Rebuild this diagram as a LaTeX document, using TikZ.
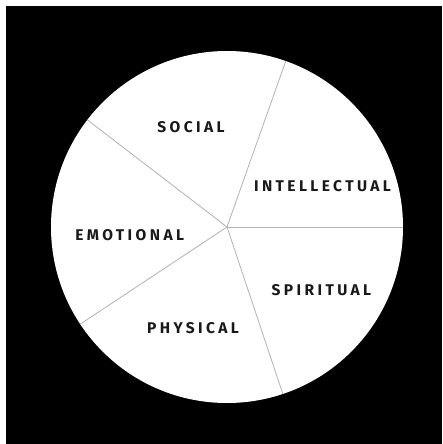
\documentclass[tikz,border=0pt]{standalone}
\usepackage{fontspec}
\usetikzlibrary{calc}
\newfontfamily\lblfont[LetterSpace=22]{Fira Sans}
\begin{document}
\begin{tikzpicture}[x=1pt,y=-1pt,
  spoke/.style={draw=black!30,line width=0.8pt},
  lbl/.style={font=\lblfont\bfseries\fontsize{15.5}{17}\selectfont,text=black!90,inner sep=0pt,anchor=center,xshift=1.7pt}]
\useasboundingbox (0,0) rectangle (442,444);
\fill[white] (0,0) rectangle (442,444);
\fill[black] (6,6) rectangle (442,444);
\coordinate (c) at (227,227);
\fill[white] (c) circle[radius=176];
\foreach \a/\n in {0/p1,71.5/p2,146.5/p3,217.5/p4,289.5/p5}{
  \coordinate (\n) at ($(c)+(\a:176)$);
}
\draw[spoke] (c) -- (p1);
\draw[spoke] (c) -- (p2);
\draw[spoke] (c) -- (p3);
\draw[spoke] (c) -- (p4);
\draw[spoke] (c) -- (p5);
\node[lbl] (social) at (189.3,127) {SOCIAL};
\node[lbl] (intel) at (320.8,185.7) {INTELLECTUAL};
\node[lbl] (emo) at (128,235) {EMOTIONAL};
\node[lbl] (spir) at (319.7,290) {SPIRITUAL};
\node[lbl] (phys) at (191.3,328) {PHYSICAL};
\end{tikzpicture}
\end{document}
